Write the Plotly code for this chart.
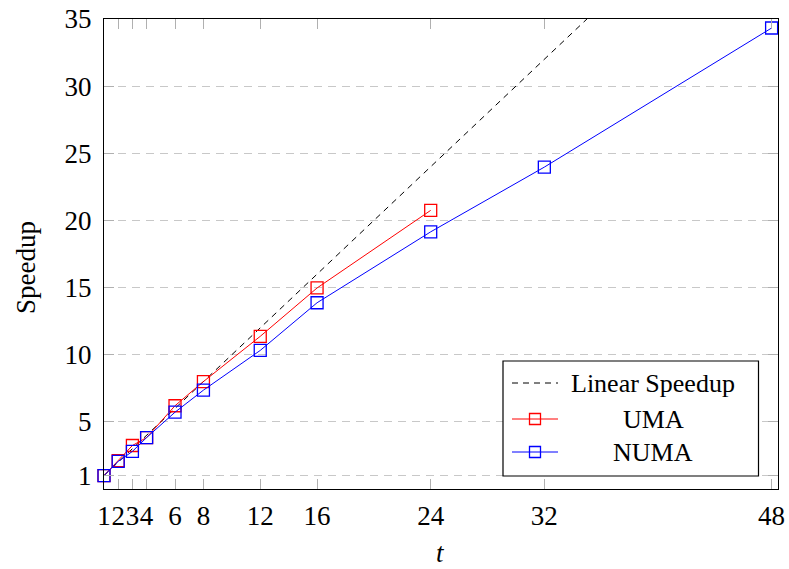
import plotly.graph_objects as go

threads = [1, 2, 3, 4, 6, 8, 12, 16, 24, 32, 48]
linear = [1, 2, 3, 4, 6, 8, 12, 16, 24, 32, 48]
uma_threads = [1, 2, 3, 4, 6, 8, 12, 16, 24]
uma = [1.0, 2.12, 3.24, 3.83, 6.2, 8.0, 11.37, 14.97, 20.75]
numa = [1.0, 2.05, 2.8, 3.83, 5.72, 7.36, 10.32, 13.87, 19.15, 23.97, 34.33]
xticks = [1, 2, 3, 4, 6, 8, 12, 16, 24, 32, 48]
yticks = [1, 5, 10, 15, 20, 25, 30, 35]
names = ["Linear Speedup", "UMA", "NUMA"]

FONT = "Liberation Serif"
W, H = 789, 569
L, R, T, B = 104, 778, 19, 489

def px(x):
    return (x - L) / (R - L)

def py(y):
    return (B - y) / (B - T)

fig = go.Figure()
fig.add_trace(go.Scatter(x=threads, y=linear, mode="lines",
                         line=dict(color="black", width=1, dash="6px,5px"),
                         name=names[0], showlegend=False))
fig.add_trace(go.Scatter(x=uma_threads, y=uma, mode="lines+markers",
                         line=dict(color="#ff0000", width=1),
                         marker=dict(symbol="square-open", size=12, color="#ff0000",
                                     line=dict(width=1.3)),
                         name=names[1], showlegend=False, cliponaxis=False))
fig.add_trace(go.Scatter(x=threads, y=numa, mode="lines+markers",
                         line=dict(color="#0000ff", width=1),
                         marker=dict(symbol="square-open", size=12, color="#0000ff",
                                     line=dict(width=1.3)),
                         name=names[2], showlegend=False, cliponaxis=False))

# custom legend
shapes = [dict(type="rect", xref="paper", yref="paper",
               x0=px(503), x1=px(758.5), y0=py(476), y1=py(361),
               line=dict(color="black", width=1.2), fillcolor="white", layer="above")]
rows = [383, 419, 452]
styles = [("black", "dash"), ("#ff0000", "solid"), ("#0000ff", "solid")]
annotations = []
for i, (yy, (col, dsh)) in enumerate(zip(rows, styles)):
    shapes.append(dict(type="line", xref="paper", yref="paper",
                       x0=px(512), x1=px(558), y0=py(yy), y1=py(yy),
                       line=dict(color=col, width=1, dash="6px,5px" if dsh == "dash" else "solid"),
                       layer="above"))
    if i > 0:
        shapes.append(dict(type="rect", xref="paper", yref="paper",
                           x0=px(529.5), x1=px(540.5), y0=py(yy + 5.5), y1=py(yy - 5.5),
                           line=dict(color=col, width=1.3), layer="above"))
    annotations.append(dict(xref="paper", yref="paper", x=px(653), y=py(yy),
                            text=names[i], showarrow=False, xanchor="center", yanchor="middle",
                            font=dict(family=FONT, size=26, color="black")))

# axis titles
annotations.append(dict(xref="paper", yref="paper", x=px(440), y=py(553), text="<i>t</i>",
                        showarrow=False, xanchor="center", yanchor="middle",
                        font=dict(family=FONT, size=27, color="black")))
annotations.append(dict(xref="paper", yref="paper", x=px(26), y=py(268), text="Speedup",
                        showarrow=False, xanchor="center", yanchor="middle", textangle=-90,
                        font=dict(family=FONT, size=27, color="black")))

fig.update_layout(
    width=W, height=H,
    margin=dict(l=L, r=W - R, t=T, b=H - B),
    paper_bgcolor="white", plot_bgcolor="white",
    font=dict(family=FONT, size=26, color="black"),
    shapes=shapes, annotations=annotations,
    xaxis=dict(range=[1, 48.45], tickvals=xticks, ticktext=[str(v) for v in xticks],
               ticks="inside", ticklen=10, tickcolor="#b0b0b0", tickwidth=1,
               showline=True, linecolor="black", linewidth=1.3, mirror="ticks",
               showgrid=False, zeroline=False, automargin=False, tickangle=0,
               ticklabelstandoff=2,
               tickfont=dict(family=FONT, size=27)),
    yaxis=dict(range=[0, 35], tickvals=yticks, ticktext=[str(v) for v in yticks],
               ticks="inside", ticklen=10, tickcolor="#b0b0b0", tickwidth=1,
               showline=True, linecolor="black", linewidth=1.3, mirror="ticks",
               showgrid=True, gridcolor="#c8c8c8", griddash="8px,6px", gridwidth=1,
               zeroline=False, automargin=False, ticklabelstandoff=6,
               tickfont=dict(family=FONT, size=27)),
)

fig.write_html("out.html")
